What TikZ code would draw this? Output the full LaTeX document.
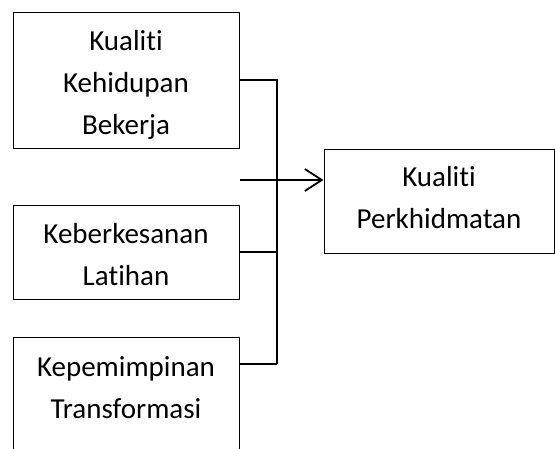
\documentclass[tikz,border=0pt]{standalone}
\usepackage{fontspec}
\setmainfont[RawFeature={-liga;-clig;-calt;-dlig}]{Carlito}
\usetikzlibrary{arrows.meta}
\begin{document}
\begin{tikzpicture}[x=1pt,y=-1pt,
  box/.style={draw, line width=1pt, inner sep=0pt},
  txt/.style={align=center, inner sep=0pt, font=\fontsize{29}{42}\selectfont},
  conn/.style={line width=1.5pt},
  arr/.style={line width=1.8pt, -{Straight Barb[length=17pt,width=22pt,line width=1.8pt]}}]
\useasboundingbox (0,0) rectangle (555,448);
\clip (0,0) rectangle (555,448);
% boxes
\node[box, minimum width=226pt, minimum height=136pt] (b1) at (126,80) {};
\node[box, minimum width=226pt, minimum height=94pt] (b2) at (126,252) {};
\node[box, minimum width=226pt, minimum height=130pt] (b3) at (126,402) {};
\node[box, minimum width=230pt, minimum height=104pt] (b4) at (439,201) {};
% texts
\node[txt] (t1) at (126,85) {Kualiti\\Kehidupan\\Bekerja};
\node[txt] (t2) at (126,255) {Keberkesanan\\Latihan};
\node[txt] (t3) at (126,388) {Kepemimpinan\\Transformasi};
\node[txt] (t4) at (439,198) {Kualiti\\Perkhidmatan};
% connectors
\coordinate (j1) at (277,80);
\coordinate (j3) at (277,364);
\coordinate (a0) at (240,180);
\draw[conn] (b1.east) -- (j1) -- (j3);
\draw[conn] (b2.east) -- (b2.east -| j1);
\draw[conn] (j3 -| b3.east) -- (j3);
\draw[arr] (a0) -- (a0 -| b4.west);
\end{tikzpicture}
\end{document}
